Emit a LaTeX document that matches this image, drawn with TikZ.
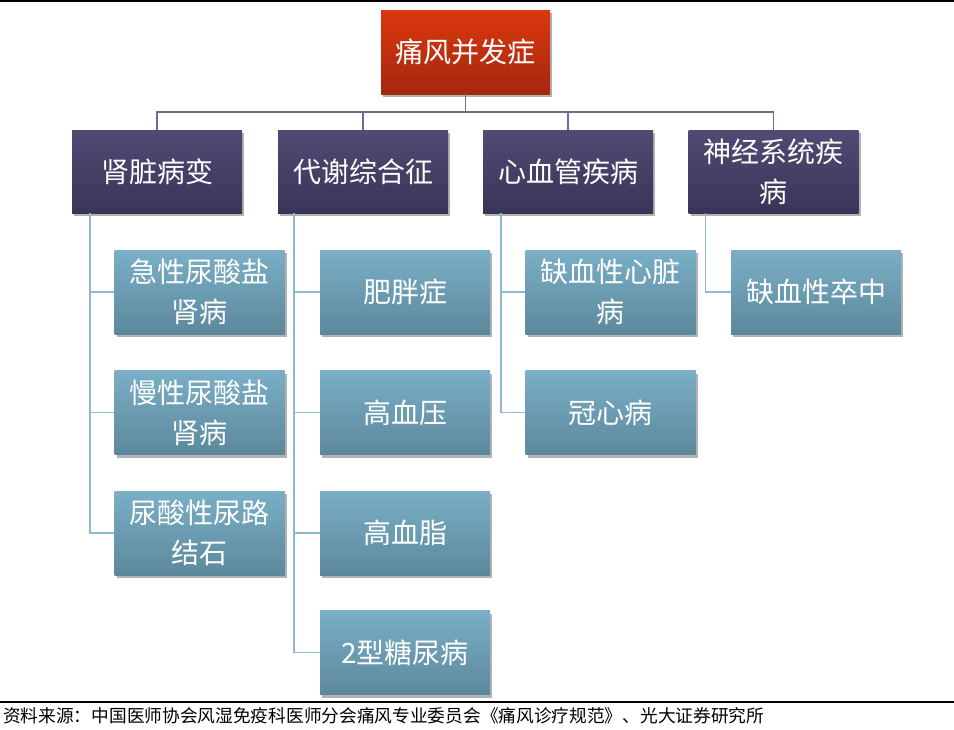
\documentclass[tikz,border=0pt]{standalone}
\usepackage{fontspec}
\setmainfont{Noto Sans CJK SC}
\usetikzlibrary{shadows}
\definecolor{redtop}{HTML}{DB380D}
\definecolor{redbot}{HTML}{A62610}
\definecolor{purtop}{HTML}{514B75}
\definecolor{purbot}{HTML}{3A3457}
\definecolor{blutop}{HTML}{7AAFC7}
\definecolor{blubot}{HTML}{5C889B}
\definecolor{busc}{HTML}{6F6B8E}
\definecolor{subc}{HTML}{8DBACE}

\begin{document}
\begin{tikzpicture}[x=1pt,y=-1pt,
    box/.style ={text=white, minimum width=170pt, minimum height=84pt, inner sep=0pt, align=center,
      font=\fontsize{28}{40}\selectfont,
      drop shadow={shadow xshift=2pt, shadow yshift=-3pt, opacity=0.3, fill=black}},
    root/.style ={box, minimum width=169pt, top color=redtop, bottom color=redbot},
    group/.style ={box, minimum height=83pt, top color=purtop, bottom color=purbot},
    item/.style ={box, top color=blutop, bottom color=blubot},
    busline/.style ={draw=busc, line width=1.5pt},
    subline/.style ={draw=subc, line width=1.5pt}]
   \useasboundingbox (0,0) rectangle (954,729);
   \draw[line width=1.5pt] (0,0.75) -- (954,0.75);
   \draw[line width=1.5pt] (0,702) -- (954,702);

   \node[root] (gout) at (465.5,52) {痛风并发症};

   \node[group] (kid) at (157,171.5) {肾脏病变};
   \node[group] (met) at (363,171.5) {代谢综合征};
   \node[group] (car) at (568,171.5) {心血管疾病};
   \node[group] (ner) at (773.5,171.5) {神经系统疾\\病};

   \node[item] (k1) at (199.5,292) {急性尿酸盐\\肾病};
   \node[item] (k2) at (199.5,412.5) {慢性尿酸盐\\肾病};
   \node[item] (k3) at (199.5,533) {尿酸性尿路\\结石};
   \node[item] (m1) at (405,292) {肥胖症};
   \node[item] (m2) at (405,412.5) {高血压};
   \node[item] (m3) at (405,533) {高血脂};
   \node[item] (m4) at (405,652.5) {2型糖尿病};
   \node[item] (c1) at (610.5,292) {缺血性心脏\\病};
   \node[item] (c2) at (610.5,412.5) {冠心病};
   \node[item] (n1) at (816,292) {缺血性卒中};

   \draw[busline] (gout.south) -- ++(0,18) -| (kid.north);
   \draw[busline] (gout.south) -- ++(0,18) -| (met.north);
   \draw[busline] (gout.south) -- ++(0,18) -| (car.north);
   \draw[busline] (gout.south) -- ++(0,18) -| (ner.north);

   \draw[subline] ([xshift=18pt]kid.south west) |- (k1.west);
   \draw[subline] ([xshift=18pt]kid.south west) |- (k2.west);
   \draw[subline] ([xshift=18pt]kid.south west) |- (k3.west);
   \draw[subline] ([xshift=16pt]met.south west) |- (m1.west);
   \draw[subline] ([xshift=16pt]met.south west) |- (m2.west);
   \draw[subline] ([xshift=16pt]met.south west) |- (m3.west);
   \draw[subline] ([xshift=16pt]met.south west) |- (m4.west);
   \draw[subline] ([xshift=18pt]car.south west) |- (c1.west);
   \draw[subline] ([xshift=18pt]car.south west) |- (c2.west);
   \draw[subline] ([xshift=17pt]ner.south west) |- (n1.west);

   \node[anchor=west, inner sep=0pt, font=\fontsize{17.7}{20}\selectfont] (src) at (3,716)
     {资料来源：中国医师协会风湿免疫科医师分会痛风专业委员会《痛风诊疗规范》、光大证券研究所};
 \end{tikzpicture}
\end{document}
